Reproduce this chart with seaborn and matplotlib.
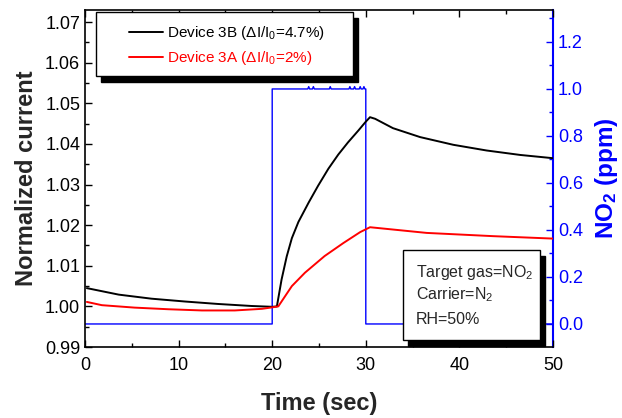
import matplotlib
matplotlib.use("Agg")
import matplotlib.pyplot as plt
from matplotlib.patches import Rectangle
from matplotlib.transforms import ScaledTranslation
from matplotlib.ticker import MultipleLocator, FormatStrFormatter
import seaborn as sns
import pandas as pd

# --- data ---
t_3b = [0.2, 3.6, 7.1, 10.7, 14.2, 17.8, 20.0, 20.5, 21.0, 21.55, 22.1, 22.8, 23.9, 24.9, 26.0,
        27.06, 28.1, 29.2, 30.0, 30.45, 31.0, 32.9, 35.8, 39.35, 42.9, 46.5, 50]
i_3b = [1.0045, 1.0029, 1.0019, 1.0012, 1.0006, 1.0001, 0.9999, 1.0000, 1.0066, 1.0123, 1.0168,
        1.0208, 1.0256, 1.0297, 1.0339, 1.0374, 1.0404, 1.0433, 1.0455, 1.0466, 1.0462,
        1.0439, 1.0417, 1.0398, 1.0384, 1.0373, 1.0365]

t_3a = [0.2, 1.8, 5.3, 8.9, 12.5, 16.0, 18.9, 20.1, 20.65, 22.1, 23.5, 25.6, 27.6, 29.4, 30.45,
        36.5, 43.6, 50]
i_3a = [1.0011, 1.0003, 0.9997, 0.9993, 0.9990, 0.9990, 0.9994, 0.9998, 1.0000, 1.0050, 1.0083,
        1.0124, 1.0156, 1.0183, 1.0195, 1.0181, 1.0173, 1.0167]

t_no2 = [0, 20.0, 20.0, 23.8, 23.9, 24.0, 24.3, 24.4, 24.5, 26.1, 26.2, 26.3, 28.2, 28.3, 28.4,
         28.7, 28.8, 28.9, 29.3, 29.4, 29.5, 29.7, 29.8, 29.9, 30.0, 30.0, 50]
c_no2 = [0.0, 0.0, 1.0, 1.0, 1.01, 1.0, 1.0, 1.01, 1.0, 1.0, 1.01, 1.0, 1.0, 1.01, 1.0,
         1.0, 1.01, 1.0, 1.0, 1.01, 1.0, 1.0, 1.01, 1.0, 1.0, 0.0, 0.0]

label_3b = r"Device 3B ($\Delta$I/I$_0$=4.7%)"
label_3a = r"Device 3A ($\Delta$I/I$_0$=2%)"
info_lines = ["Target gas=NO$_2$", "Carrier=N$_2$", "RH=50%"]

sns.set_style("ticks")
plt.rcParams["font.family"] = ["Liberation Sans", "DejaVu Sans"]
plt.rcParams["mathtext.fontset"] = "custom"
plt.rcParams["mathtext.rm"] = "Liberation Sans"
plt.rcParams["mathtext.it"] = "Liberation Sans:italic"
plt.rcParams["mathtext.bf"] = "Liberation Sans:bold"

fig = plt.figure(figsize=(6.22, 4.18), dpi=100)
ax = fig.add_axes([85/622, 1-347/418, 468/622, 337/418])
ax2 = ax.twinx()

df_b = pd.DataFrame({"t": t_3b, "i": i_3b})
df_a = pd.DataFrame({"t": t_3a, "i": i_3a})
df_n = pd.DataFrame({"t": t_no2, "c": c_no2})

sns.lineplot(data=df_n, x="t", y="c", ax=ax2, color="#0000ff", lw=1.0, sort=False,
             estimator=None)
sns.lineplot(data=df_b, x="t", y="i", ax=ax, color="black", lw=1.4, label=label_3b,
             sort=False, estimator=None)
sns.lineplot(data=df_a, x="t", y="i", ax=ax, color="#ff0000", lw=1.4, label=label_3a,
             sort=False, estimator=None)
ax.set_zorder(ax2.get_zorder() + 1)
ax.patch.set_visible(False)

ax.set_xlim(0, 50)
ax.set_ylim(0.99, 1.073)
ax2.set_ylim(-0.098, 1.336)

ax.xaxis.set_major_locator(MultipleLocator(10))
ax.xaxis.set_minor_locator(MultipleLocator(5))
ax.yaxis.set_major_locator(MultipleLocator(0.01))
ax.yaxis.set_minor_locator(MultipleLocator(0.005))
ax.yaxis.set_major_formatter(FormatStrFormatter("%.2f"))
ax2.yaxis.set_major_locator(MultipleLocator(0.2))
ax2.yaxis.set_minor_locator(MultipleLocator(0.1))
ax2.yaxis.set_major_formatter(FormatStrFormatter("%.1f"))

ax.tick_params(axis="both", which="both", direction="in", top=True, labelsize=13,
               width=1.0, colors="black")
ax.tick_params(which="major", length=5)
ax.tick_params(which="minor", length=3)
ax.tick_params(axis="y", right=False)
ax.tick_params(axis="x", pad=7)
ax2.tick_params(axis="y", which="both", direction="in", colors="#0000ff", labelsize=13,
                width=1.0)
ax2.tick_params(which="major", length=5)
ax2.tick_params(which="minor", length=3)

for s in ["left", "top", "bottom"]:
    ax.spines[s].set_linewidth(1.2)
    ax.spines[s].set_color("black")
ax.spines["right"].set_visible(False)
for s in ["left", "top", "bottom"]:
    ax2.spines[s].set_visible(False)
ax2.spines["right"].set_color("#0000ff")
ax2.spines["right"].set_linewidth(1.5)

ax.set_xlabel("Time (sec)", fontsize=17, fontweight="bold", labelpad=13)
ax.set_ylabel("Normalized current", fontsize=17, fontweight="bold", labelpad=5)
ax2.set_ylabel(r"NO$_\mathbf{2}$ (ppm)", fontsize=17.5, fontweight="bold", color="#0000ff",
               labelpad=7)

shadow_tr = ax.transAxes + ScaledTranslation(5/100, -6/100, fig.dpi_scale_trans)


def shadow_box(x0, y0, x1, y1):
    ax.add_patch(Rectangle((x0, y0), x1 - x0, y1 - y0, transform=shadow_tr,
                           fc="black", ec="black", lw=1.0, zorder=5, clip_on=False))
    ax.add_patch(Rectangle((x0, y0), x1 - x0, y1 - y0, transform=ax.transAxes,
                           fc="white", ec="black", lw=1.0, zorder=6, clip_on=False))


# legend box
shadow_box(0.0235, 0.804, 0.5726, 0.994)
leg = ax.legend(loc="upper left", bbox_to_anchor=(0.094, 0.957), frameon=False,
                fontsize=11, labelcolor="linecolor", handlelength=2.2, handletextpad=0.3,
                borderpad=0, borderaxespad=0, labelspacing=0.45)
leg.set_zorder(7)

# info box
shadow_box(0.679, 0.021, 0.972, 0.288)
for ln, yb in zip(info_lines, [0.209, 0.141, 0.068]):
    ax.text(0.707, yb, ln, transform=ax.transAxes, fontsize=11.5, va="baseline",
            ha="left", zorder=8)

fig.savefig("out.png", dpi=100)
